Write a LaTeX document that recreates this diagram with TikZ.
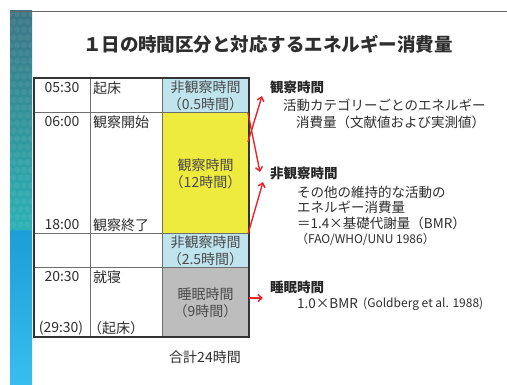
\documentclass[tikz,border=0pt]{standalone}
\usepackage{fontspec}
\setmainfont{Noto Sans CJK JP}
\usetikzlibrary{arrows.meta}
\definecolor{lblue}{HTML}{BFE4EE}
\definecolor{cyel}{HTML}{EFEA3E}
\definecolor{cgray}{HTML}{BDBDBD}
\definecolor{cred}{HTML}{E8262A}
\definecolor{ttxt}{HTML}{2E2E2E}
\definecolor{ctxt}{HTML}{4A4A4A}
\definecolor{gline}{HTML}{6E6E6E}
\begin{document}
\begin{tikzpicture}[x=1pt,y=-1pt,
  cell/.style={draw=none,minimum width=87pt,inner sep=0pt,align=center,text=ctxt,
    font=\fontsize{14}{17}\selectfont},
  tm/.style={inner sep=0pt,text=ttxt,font=\fontsize{14}{16}\selectfont},
  ev/.style={inner sep=0pt,anchor=west,text=ttxt,font=\fontsize{14}{16}\selectfont},
  lab/.style={inner sep=0pt,anchor=west,text=black!85,font=\fontsize{13.5}{16}\selectfont\bfseries},
  desc/.style={inner sep=0pt,anchor=west,text=ttxt,font=\fontsize{13.5}{16}\selectfont},
  ref/.style={inner sep=0pt,anchor=west,text=ttxt,font=\fontsize{12}{14}\selectfont},
  redarrow/.style={draw=cred,line width=1.4pt,-{Straight Barb[length=4pt,width=7pt]}},
  grid/.style={draw=gline,line width=1pt}]
\useasboundingbox (0,0) rectangle (507,385);
\fill[white] (0,0) rectangle (507,385);
% left stripe
\shade[top color={rgb,255:red,60;green,118;blue,132},bottom color={rgb,255:red,42;green,178;blue,180}] (10,11) rectangle (32,231);
\shade[top color={rgb,255:red,28;green,158;blue,214},bottom color={rgb,255:red,56;green,190;blue,238}] (10,231) rectangle (32,385);
\begin{scope}
\clip (10,11) rectangle (32,231);
\foreach \r in {0,...,28}{
  \foreach \c in {0,...,3}{
    \pgfmathsetmacro{\xx}{10+\c*7+mod(\r,2)*3.5}
    \pgfmathsetmacro{\yy}{14+\r*7.8}
    \fill[white,opacity=0.06] (\xx,\yy) circle (3.2);
  }
}
\end{scope}
\draw[black!60,line width=0.8pt] (10,11) -- (507,11);
% title
\node[inner sep=0pt,text=ttxt,font=\fontsize{18.5}{20}\selectfont\bfseries] (title) at (268,44) {１日の時間区分と対応するエネルギー消費量};
% cells
\node[cell,fill=lblue,minimum height=35pt] (c05) at (205.5,95.5) {非観察時間\\（0.5時間）};
\node[cell,fill=cyel,minimum height=121pt] (cobs) at (205.5,173.5) {観察時間\\（12時間）};
\node[cell,fill=lblue,minimum height=34pt] (c25) at (205.5,251) {非観察時間\\（2.5時間）};
\node[cell,fill=cgray,minimum height=69pt] (csl) at (205.5,302.5) {睡眠時間\\（9時間）};
% grid
\draw[grid] (90,78) -- (90,337);
\draw[grid] (162,78) -- (162,337);
\draw[grid] (34,113) -- (249,113);
\draw[grid] (34,234) -- (249,234);
\draw[grid] (34,268) -- (249,268);
\draw[draw=black!80,line width=1.8pt] (34,78) rectangle (249,337);
% times and events
\node[tm] (t1) at (62,88) {05:30};
\node[tm] (t2) at (62,122) {06:00};
\node[tm] (t3) at (62,225) {18:00};
\node[tm] (t4) at (62,277) {20:30};
\node[tm] (t5) at (61,328) {(29:30)};
\node[ev] (e1) at (93,88) {起床};
\node[ev] (e2) at (93,122) {観察開始};
\node[ev] (e3) at (93,225) {観察終了};
\node[ev] (e4) at (93,277) {就寝};
\node[ev] (e5) at (88,328) {（起床）};
\node[tm] (total) at (205,357) {合計24時間};
% right texts
\node[lab] (lobs) at (270,87) {観察時間};
\node[desc] (d1) at (283,105) {活動カテゴリーごとのエネルギー};
\node[desc] (d2) at (296,122) {消費量（文献値および実測値）};
\node[lab] (lnon) at (270,173) {非観察時間};
\node[desc] (d3) at (297,192) {その他の維持的な活動の};
\node[desc] (d4) at (297,207) {エネルギー消費量};
\node[desc] (d5) at (297,223) {＝1.4×基礎代謝量（BMR）};
\node[ref] (d6) at (296,239) {（FAO/WHO/UNU 1986）};
\node[lab] (lsl) at (270,287) {睡眠時間};
\node[desc] (d7) at (297,304) {1.0×BMR};
\node[ref] (d8) at (d7.east) [xshift=5pt] {(Goldberg et al. 1988)};
% arrows
\coordinate (s1) at (248,142);
\coordinate (h1) at (262,96);
\coordinate (s2) at (248,113);
\coordinate (h2) at (260,172);
\coordinate (s3) at (248,234);
\coordinate (h3) at (263,182);
\coordinate (s4) at (249,298);
\coordinate (h4) at (263,298);
\draw[redarrow] (s1) -- (h1);
\draw[redarrow] (s2) -- (h2);
\draw[redarrow] (s3) -- (h3);
\draw[redarrow] (s4) -- (h4);
\end{tikzpicture}
\end{document}
